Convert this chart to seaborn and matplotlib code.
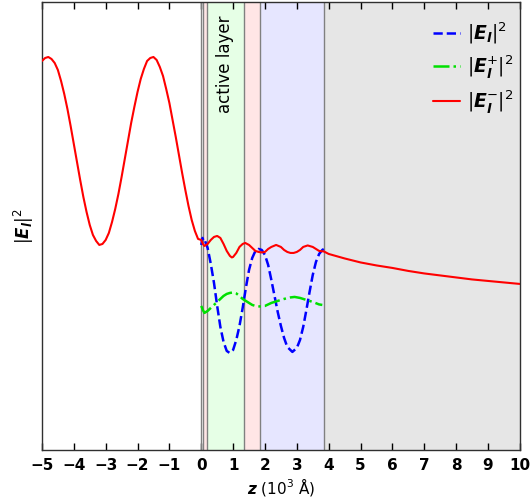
import matplotlib
matplotlib.use("Agg")
import matplotlib.pyplot as plt
import seaborn as sns
import pandas as pd

# --- field intensity in the glass half-space (z < 0) ---
z_front = [-5.0, -4.9, -4.8, -4.7, -4.6, -4.5, -4.4, -4.3, -4.2, -4.1,
           -4.0, -3.9, -3.8, -3.7, -3.6, -3.5, -3.4, -3.3, -3.2, -3.1,
           -3.0, -2.9, -2.8, -2.7, -2.6, -2.5, -2.4, -2.3, -2.2, -2.1,
           -2.0, -1.9, -1.8, -1.7, -1.6, -1.5, -1.4, -1.3, -1.2, -1.1,
           -1.0, -0.9, -0.8, -0.7, -0.6, -0.5, -0.4, -0.3, -0.2, -0.1]
e_front = [3.89, 3.92, 3.93, 3.91, 3.87, 3.80, 3.69, 3.56, 3.41, 3.24,
           3.06, 2.88, 2.70, 2.53, 2.38, 2.25, 2.15, 2.09, 2.05, 2.06,
           2.10, 2.17, 2.28, 2.41, 2.56, 2.73, 2.91, 3.09, 3.27, 3.43,
           3.58, 3.71, 3.81, 3.89, 3.92, 3.93, 3.90, 3.83, 3.74, 3.61,
           3.47, 3.30, 3.13, 2.95, 2.77, 2.60, 2.44, 2.30, 2.19, 2.11]

# --- inside the layer stack (0 <= z <= 3.85) ---
z_stack_red = [0.0, 0.05, 0.1, 0.2, 0.3, 0.4, 0.5, 0.6, 0.7, 0.8, 0.9, 0.96,
               1.0, 1.1, 1.2, 1.3, 1.38, 1.5, 1.6, 1.7, 1.8, 1.9, 2.0, 2.1,
               2.2, 2.35, 2.5, 2.6, 2.7, 2.8, 2.9, 3.0, 3.1, 3.2, 3.34, 3.5,
               3.6, 3.7, 3.85]
e_stack_red = [2.10, 2.06, 2.04, 2.06, 2.10, 2.13, 2.14, 2.12, 2.06, 1.99, 1.94, 1.925,
               1.93, 1.97, 2.03, 2.06, 2.07, 2.05, 2.02, 1.99, 1.98, 1.975, 1.98, 2.01,
               2.03, 2.05, 2.03, 2.00, 1.98, 1.97, 1.97, 1.98, 2.00, 2.03, 2.045, 2.03,
               2.01, 1.99, 1.985]

# --- substrate side (z > 3.85) ---
z_back = [4.0, 4.5, 5.0, 5.5, 6.0, 6.5, 7.0, 7.5, 8.0, 8.5, 9.0, 9.5, 10.0]
e_back = [1.96, 1.915, 1.875, 1.845, 1.82, 1.79, 1.765, 1.745, 1.725, 1.705, 1.69, 1.675, 1.66]

# total |E_l|^2 in the stack
z_total = [0.0, 0.04, 0.08, 0.12, 0.2, 0.3, 0.4, 0.5, 0.6, 0.7, 0.8, 0.89,
           1.0, 1.1, 1.2, 1.3, 1.4, 1.5, 1.6, 1.7, 1.8, 1.9, 2.0, 2.1,
           2.2, 2.3, 2.4, 2.5, 2.6, 2.7, 2.86, 3.0, 3.1, 3.2, 3.3, 3.4,
           3.5, 3.6, 3.7, 3.8, 3.85]
e_total = [2.05, 2.12, 2.08, 2.09, 2.02, 1.86, 1.67, 1.44, 1.23, 1.08, 0.99, 0.97,
           1.00, 1.10, 1.24, 1.42, 1.62, 1.80, 1.92, 1.99, 2.01, 2.00, 1.95, 1.85,
           1.70, 1.54, 1.38, 1.24, 1.12, 1.03, 0.98, 1.02, 1.10, 1.23, 1.40, 1.58,
           1.75, 1.88, 1.96, 2.00, 2.01]

# forward-going |E_l^+|^2 in the stack
z_plus = [0.0, 0.05, 0.1, 0.2, 0.3, 0.4, 0.5, 0.6, 0.7, 0.8, 0.9, 1.0,
          1.1, 1.2, 1.3, 1.4, 1.5, 1.6, 1.7, 1.83, 2.0, 2.2, 2.4, 2.6,
          2.8, 2.93, 3.1, 3.3, 3.5, 3.7, 3.8]
e_plus = [1.44, 1.40, 1.37, 1.39, 1.42, 1.45, 1.48, 1.51, 1.54, 1.56, 1.57, 1.575,
          1.565, 1.54, 1.51, 1.49, 1.47, 1.45, 1.44, 1.435, 1.44, 1.47, 1.49, 1.51,
          1.525, 1.53, 1.52, 1.50, 1.48, 1.455, 1.45]

# layer boundaries and fills
layer_edges = [0.0, 0.05, 0.17, 1.335, 1.84, 3.85, 10.0]
layer_colors = [None, "#ffe6e6", "#e6ffe6", "#ffe6e6", "#e6e6ff", "#e6e6e6"]

x_ticks = list(range(-5, 11))

sns.set_style("white")
plt.rcParams["font.family"] = ["DejaVu Sans"]
plt.rcParams["mathtext.fontset"] = "dejavusans"
plt.rcParams["text.color"] = "black"
plt.rcParams["axes.labelcolor"] = "black"
plt.rcParams["xtick.color"] = "black"

fig = plt.figure(figsize=(5.31, 5.01), dpi=100)
ax = fig.add_axes([0.079, 0.102, 0.900, 0.894])

for left, right, col in zip(layer_edges[:-1], layer_edges[1:], layer_colors):
    if col is not None:
        ax.axvspan(left, right, color=col, lw=0, zorder=0)
for edge in layer_edges[:-1]:
    ax.axvline(edge, color="#808080", lw=1.0, zorder=1)

red = pd.DataFrame({"z": z_front + z_stack_red + z_back,
                    "e": e_front + e_stack_red + e_back})
tot = pd.DataFrame({"z": z_total, "e": e_total})
plus = pd.DataFrame({"z": z_plus, "e": e_plus})

sns.lineplot(data=tot, x="z", y="e", ax=ax, color="#0000ff", lw=1.8,
             linestyle="--", label=r"$|\mathbfit{E}_\mathbfit{l}|^2$", zorder=3)
sns.lineplot(data=plus, x="z", y="e", ax=ax, color="#00e000", lw=1.8,
             linestyle="-.", label=r"$|\mathbfit{E}_\mathbfit{l}^{+}|^2$", zorder=3)
sns.lineplot(data=red, x="z", y="e", ax=ax, color="#ff0000", lw=1.5,
             label=r"$|\mathbfit{E}_\mathbfit{l}^{-}|^2$", zorder=3)

ax.text(0.75, 4.35, "active layer", rotation=90, ha="center", va="top",
        fontsize=12, color="black")

ax.set_xlim(-5, 10)
ax.set_ylim(0, 4.48)
ax.set_xticks(x_ticks)
ax.set_yticks([])
ax.tick_params(axis="x", direction="in", top=True, bottom=True, length=5,
               width=1, labelsize=11, pad=6, colors="black")
for lab in ax.get_xticklabels():
    lab.set_fontweight("bold")
for sp in ax.spines.values():
    sp.set_color("#303030")
    sp.set_linewidth(1.0)

ax.set_xlabel(r"$\mathbfit{z}$ (10$^3$ Å)", fontsize=11, labelpad=2)
ax.set_ylabel(r"$|\mathbfit{E}_\mathbfit{l}|^2$", fontsize=12)

leg = ax.legend(loc="upper right", bbox_to_anchor=(1.02, 0.995), frameon=False,
                fontsize=13.5, handlelength=1.45, handletextpad=0.35,
                labelspacing=0.4, borderaxespad=0.45)
for t in leg.get_texts():
    t.set_color("black")

fig.savefig("out.png", dpi=100)
